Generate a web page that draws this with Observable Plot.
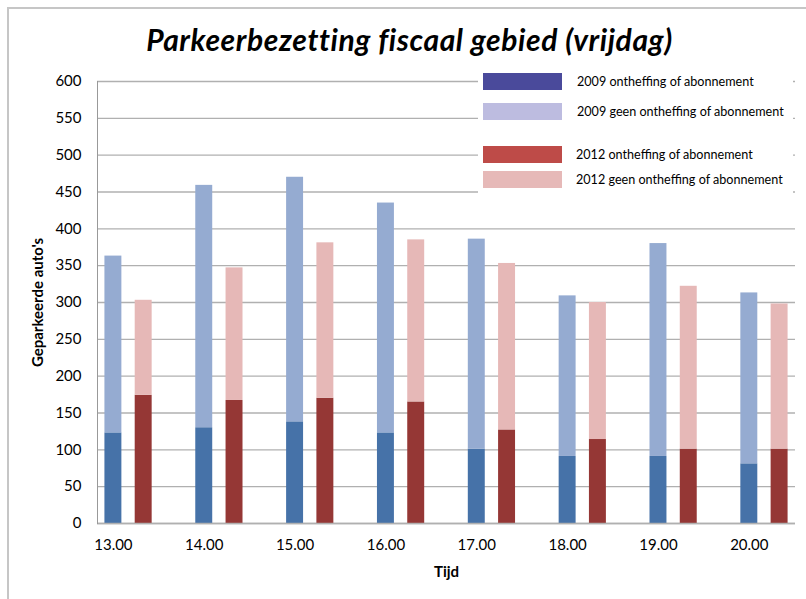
<!DOCTYPE html>
<html>
<head>
<meta charset="utf-8">
<script src="https://cdn.jsdelivr.net/npm/d3@7"></script>
<script src="https://cdn.jsdelivr.net/npm/@observablehq/plot@0.6"></script>
<style>
  body { margin: 0; background: #fff; }
  #wrap { position: relative; width: 806px; height: 599px; overflow: hidden; font-family: Lato, "Open Sans", sans-serif; background: #fff; }
  #frame { position: absolute; left: 7px; top: 7px; width: 830px; height: 630px; border-left: 2px solid #c6c6c6; border-top: 2px solid #c6c6c6; box-sizing: border-box; }
  #title { position: absolute; left: 0; top: 21px; width: 806px; padding-left: 13px; box-sizing: border-box; text-align: center; font-size: 30px; letter-spacing: 0.6px; line-height: 36px; font-weight: bold; font-style: italic; color: #000; }
  #chart { position: absolute; left: 0; top: 70px; }
  #legend { position: absolute; left: 478px; top: 66px; width: 315px; height: 129px; background: #fff; }
  .item { position: absolute; left: 5px; height: 17px; display: flex; align-items: center; }
  .sw { width: 79px; height: 17px; }
  .lbl { font-size: 12.6px; color: #000; white-space: nowrap; }
</style>
</head>
<body>
<div id="wrap">
  <div id="frame"></div>
  <div id="title">Parkeerbezetting fiscaal gebied (vrijdag)</div>
  <div id="chart"></div>
  <div id="legend"></div>
</div>
<script>
// ---- data ----
const times = ["13.00", "14.00", "15.00", "16.00", "17.00", "18.00", "19.00", "20.00"];
const ontheffing2009 = [123, 130, 138, 123, 101, 91, 91, 81];
const geen2009 = [240, 329, 332, 312, 285, 218, 289, 232];
const ontheffing2012 = [174, 167, 170, 165, 127, 114, 101, 101];
const geen2012 = [129, 180, 211, 220, 226, 186, 221, 197];
const yTicks = [0, 50, 100, 150, 200, 250, 300, 350, 400, 450, 500, 550, 600];
const seriesNames = [
  "2009 ontheffing of abonnement",
  "2009 geen ontheffing of abonnement",
  "2012 ontheffing of abonnement",
  "2012 geen ontheffing of abonnement"
];
const barColors = ["#4672a8", "#95abd1", "#953735", "#e6b8b7"];
const legendColors = ["#4a4a9b", "#bdbce0", "#be4b48", "#e6b9b8"];

// ---- build table ----
const rows = [];
times.forEach((t, i) => {
  rows.push({slot: t + "|a", series: seriesNames[0], value: ontheffing2009[i]});
  rows.push({slot: t + "|a", series: seriesNames[1], value: geen2009[i]});
  rows.push({slot: t + "|b", series: seriesNames[2], value: ontheffing2012[i]});
  rows.push({slot: t + "|b", series: seriesNames[3], value: geen2012[i]});
});
const slots = times.flatMap(t => [t + "|a", t + "|b", t + "|c"]).slice(0, -1);

const chart = Plot.plot({
  width: 806,
  height: 529,
  marginTop: 11,
  marginBottom: 76,
  marginLeft: 97,
  marginRight: 11,
  style: {fontFamily: "Lato, 'Open Sans', sans-serif", fontSize: "15px", color: "#000", background: "transparent"},
  x: {type: "band", domain: slots, paddingInner: 0.44, paddingOuter: 0.245, round: false},
  y: {domain: [0, 600]},
  color: {domain: seriesNames, range: barColors},
  marks: [
    Plot.gridY(yTicks, {stroke: "#b0b0b0", strokeOpacity: 1, strokeWidth: 1.4}),
    Plot.barY(rows, {x: "slot", y: "value", fill: "series"}),
    Plot.ruleY([0], {stroke: "#b0b0b0", strokeWidth: 1.6}),
    Plot.frame({anchor: "left", stroke: "#999"}),
    Plot.axisY(yTicks, {tickSize: 0, tickPadding: 16, label: "Geparkeerde auto's", labelAnchor: "center", labelArrow: "none", labelOffset: 65, fontSize: 15}),
    Plot.axisX(slots.filter(s => s.endsWith("|a")), {tickSize: 0, tickPadding: 16, tickFormat: d => d.split("|")[0], label: "Tijd", labelAnchor: "center", labelOffset: 53, fontSize: 15})
  ]
});
// bold axis titles
chart.querySelectorAll("g[aria-label='y-axis label'] text, g[aria-label='x-axis label'] text").forEach(t => t.setAttribute("font-weight", "bold"));
document.getElementById("chart").appendChild(chart);

// ---- legend ----
const legend = document.getElementById("legend");
const tops = [7, 37, 80, 105];
seriesNames.forEach((name, i) => {
  const item = document.createElement("div");
  item.className = "item";
  item.style.top = tops[i] + "px";
  item.innerHTML = `<div class="sw" style="background:${legendColors[i]}"></div><span class="lbl" style="margin-left:${i < 2 ? 15 : 14}px">${name}</span>`;
  legend.appendChild(item);
});
</script>
</body>
</html>
